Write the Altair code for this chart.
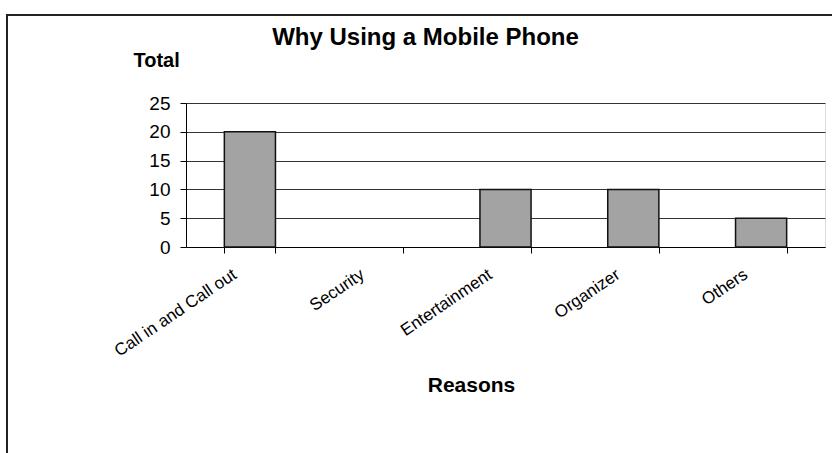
import altair as alt
import pandas as pd

reasons = ["Call in and Call out", "Security", "Entertainment", "Organizer", "Others"]
totals = [20, 0, 10, 10, 5]

df = pd.DataFrame({"Reasons": reasons, "Total": totals})

FONT = "Liberation Sans"

bars = alt.Chart(df).mark_bar(
    fill="#a3a3a3", strokeWidth=1.5
).encode(
    x=alt.X(
        "Reasons:N",
        sort=reasons,
        scale=alt.Scale(paddingInner=0.6, paddingOuter=0.3),
        axis=alt.Axis(
            title="Reasons",
            titleFont=FONT, titleFontSize=21, titleFontWeight="bold", titleColor="#000",
            titleX=285, titleY=144, titleAlign="center", titleBaseline="alphabetic",
            labelFont=FONT, labelFontSize=17, labelColor="#000",
            labelAngle=-34, labelAlign="right", labelBaseline="top",
            labelOffset=-20, labelPadding=13,
            tickBand="extent", tickSize=6, tickColor="#000", domainColor="#000",
            grid=False, labelLimit=300,
        ),
    ),
    y=alt.Y(
        "Total:Q",
        scale=alt.Scale(domain=[0, 25], nice=False),
        axis=alt.Axis(
            values=[0, 5, 10, 15, 20, 25],
            title="Total",
            titleFont=FONT, titleFontSize=20, titleFontWeight="bold", titleColor="#000",
            titleAngle=0, titleX=-53, titleY=-37, titleAlign="left", titleBaseline="alphabetic",
            labelFont=FONT, labelFontSize=19, labelColor="#000", labelPadding=10,
            tickSize=6, tickColor="#000", domainColor="#000",
            grid=True, gridColor="#333333", gridWidth=1,
        ),
    ),
    stroke=alt.condition("datum.Total > 0", alt.value("#111111"), alt.value("transparent")),
)

frame = alt.Chart(df).mark_rect(
    fill=None, stroke="#222222", strokeWidth=2, clip=False
).encode(
    x=alt.value(-179), x2=alt.value(660), y=alt.value(-88), y2=alt.value(420)
)

chart = alt.layer(frame, bars).properties(
    width=639,
    height=144,
    title=alt.TitleParams(
        "Why Using a Mobile Phone",
        font=FONT, fontSize=24, fontWeight="bold", color="#000",
        anchor="middle", dx=-80, dy=39, offset=3,
    ),
    autosize=alt.AutoSizeParams(type="none"),
    padding={"left": 186, "top": 103, "right": 7, "bottom": 206},
).configure_view(
    stroke="#666666", strokeWidth=1
).configure(background="white")

chart.save("out.html", embed_options={"renderer": "svg", "actions": False})
